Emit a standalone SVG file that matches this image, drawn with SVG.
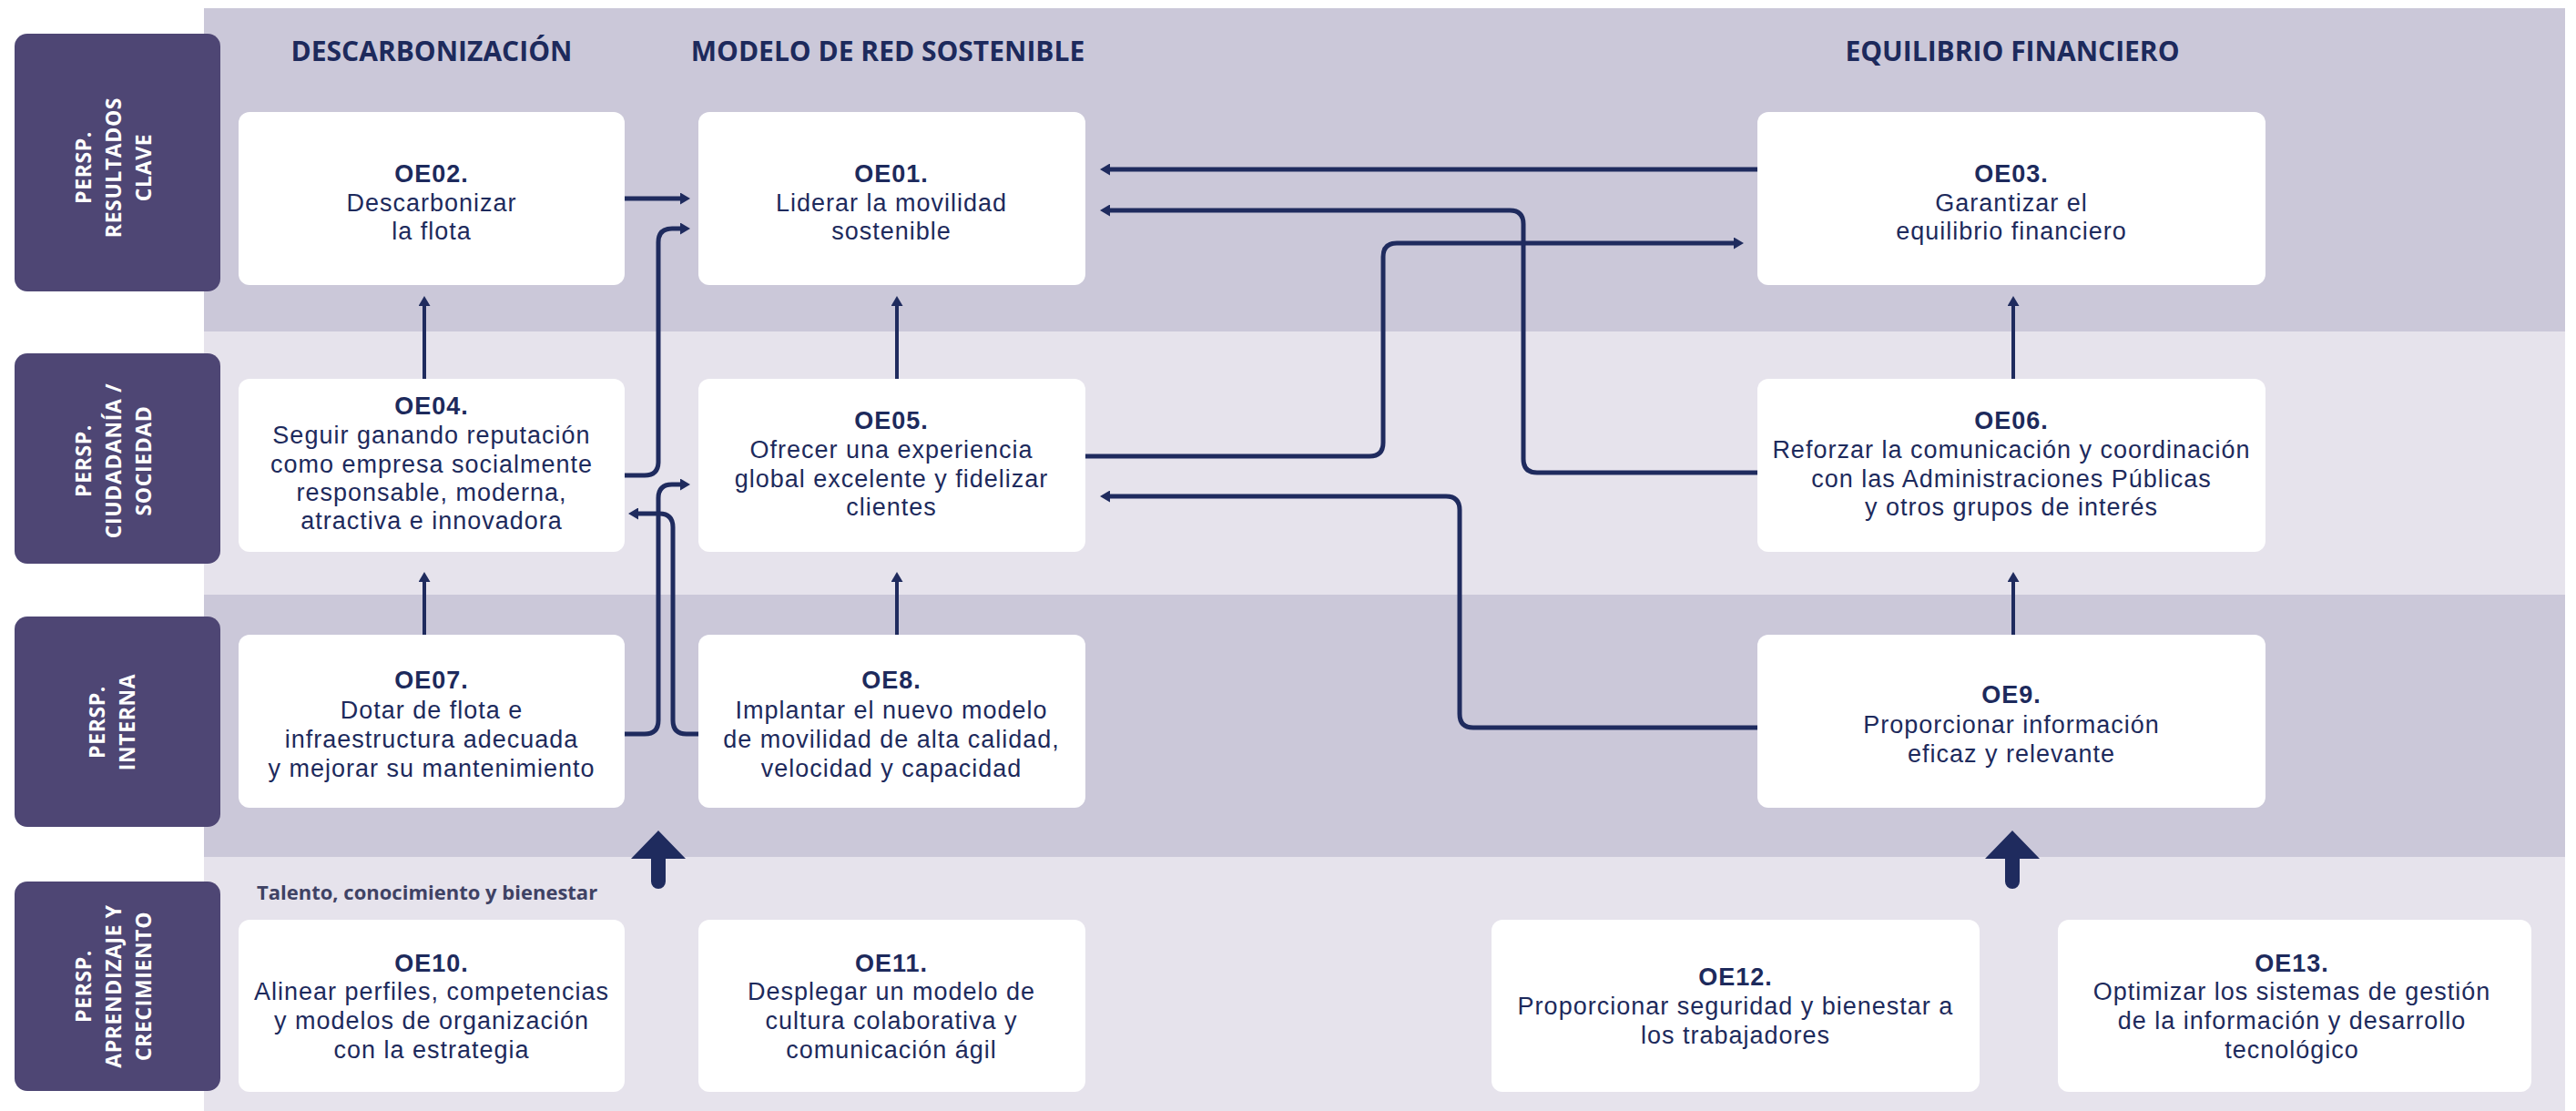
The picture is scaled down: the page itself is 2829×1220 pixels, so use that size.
<svg xmlns="http://www.w3.org/2000/svg" width="2829" height="1220" viewBox="0 0 2829 1220">
  <defs>
    <style>
      .bgA{fill:#cbc8d9}
      .bgB{fill:#e6e3ec}
      .lab{fill:#4e4674}
      .labt{font-family:"Open Sans","Liberation Sans",sans-serif;font-weight:700;font-size:23px;letter-spacing:0.6px;fill:#ffffff;text-anchor:middle}
      .box{fill:#ffffff}
      .t{font-family:"Liberation Sans",Arial,sans-serif;font-size:27px;letter-spacing:1px;fill:#1d2a5c;text-anchor:middle}
      .b{font-weight:700}
      .hd{font-family:"Open Sans","Liberation Sans",sans-serif;font-weight:700;font-size:30px;fill:#1d2a5c;text-anchor:middle}
      .note{font-family:"Open Sans","Liberation Sans",sans-serif;font-weight:700;font-size:22px;fill:#3f4264}
      .c{fill:none;stroke:#1f2b5e;stroke-width:5;marker-end:url(#ah)}
      .v{fill:none;stroke:#1f2b5e;stroke-width:4;marker-end:url(#ah)}
      .big{fill:#1f2b5e}
    </style>
    <marker id="ah" markerUnits="userSpaceOnUse" viewBox="0 0 11 13" refX="4" refY="6.5" markerWidth="11" markerHeight="13" orient="auto">
      <path d="M0,0 L11,6.5 L0,13 Z" fill="#1f2b5e"/>
    </marker>
  </defs>

  <!-- perspective bands -->
  <g id="bands">
    <rect class="bgA" x="224" y="9" width="2593" height="355"/>
    <rect class="bgB" x="224" y="364" width="2593" height="289"/>
    <rect class="bgA" x="224" y="653" width="2593" height="288"/>
    <rect class="bgB" x="224" y="941" width="2593" height="279"/>
  </g>

  <!-- perspective labels -->
  <g id="persp-resultados">
    <rect class="lab" x="16" y="37" width="226" height="283" rx="14"/>
    <text class="labt" transform="translate(125,184) rotate(-90)"><tspan x="0" y="-25">PERSP.</tspan><tspan x="0" y="8">RESULTADOS</tspan><tspan x="0" y="41">CLAVE</tspan></text>
  </g>
  <g id="persp-ciudadania">
    <rect class="lab" x="16" y="388" width="226" height="231" rx="14"/>
    <text class="labt" transform="translate(125,506) rotate(-90)"><tspan x="0" y="-25">PERSP.</tspan><tspan x="0" y="8">CIUDADANÍA /</tspan><tspan x="0" y="41">SOCIEDAD</tspan></text>
  </g>
  <g id="persp-interna">
    <rect class="lab" x="16" y="677" width="226" height="231" rx="14"/>
    <text class="labt" transform="translate(123,793) rotate(-90)"><tspan x="0" y="-8">PERSP.</tspan><tspan x="0" y="25">INTERNA</tspan></text>
  </g>
  <g id="persp-aprendizaje">
    <rect class="lab" x="16" y="968" width="226" height="230" rx="14"/>
    <text class="labt" transform="translate(125,1083) rotate(-90)"><tspan x="0" y="-25">PERSP.</tspan><tspan x="0" y="8">APRENDIZAJE Y</tspan><tspan x="0" y="41">CRECIMIENTO</tspan></text>
  </g>

  <!-- column headings -->
  <g id="headings">
    <text class="hd" x="474" y="67">DESCARBONIZACIÓN</text>
    <text class="hd" x="975" y="67">MODELO DE RED SOSTENIBLE</text>
    <text class="hd" x="2210" y="67">EQUILIBRIO FINANCIERO</text>
  </g>

  <!-- connectors -->
  <g id="connectors">
    <path class="c" d="M686,218 H751"/>
    <path class="c" d="M686,522 H708 Q723,522 723,507 V266 Q723,251 738,251 H751"/>
    <path class="c" d="M686,806 H708 Q723,806 723,791 V547 Q723,532 738,532 H751"/>
    <path class="c" d="M767,806 H754 Q739,806 739,791 V579 Q739,564 724,564 H697"/>
    <path class="c" d="M1930,186 H1215"/>
    <path class="c" d="M1930,519 H1688 Q1673,519 1673,504 V246 Q1673,231 1658,231 H1215"/>
    <path class="c" d="M1192,501 H1504 Q1519,501 1519,486 V282 Q1519,267 1534,267 H1908"/>
    <path class="c" d="M1930,799 H1618 Q1603,799 1603,784 V560 Q1603,545 1588,545 H1215"/>
    <path class="v" d="M466,416 V332"/>
    <path class="v" d="M985,416 V332"/>
    <path class="v" d="M2211,416 V332"/>
    <path class="v" d="M466,697 V635"/>
    <path class="v" d="M985,697 V635"/>
    <path class="v" d="M2211,697 V635"/>
    <path class="big" d="M723,912 L753,943 L731,943 V968 A8,8 0 0 1 715,968 V943 L693,943 Z"/>
    <path class="big" d="M2210,912 L2240,943 L2218,943 V968 A8,8 0 0 1 2202,968 V943 L2180,943 Z"/>
  </g>

  <text class="note" x="282" y="988">Talento, conocimiento y bienestar</text>

  <!-- objectives -->
  <g id="OE02">
    <rect class="box" x="262" y="123" width="424" height="190" rx="12"/>
    <text class="t"><tspan class="b" x="474" y="200">OE02.</tspan><tspan x="474" y="232">Descarbonizar</tspan><tspan x="474" y="263">la flota</tspan></text>
  </g>
  <g id="OE01">
    <rect class="box" x="767" y="123" width="425" height="190" rx="12"/>
    <text class="t"><tspan class="b" x="979" y="200">OE01.</tspan><tspan x="979" y="232">Liderar la movilidad</tspan><tspan x="979" y="263">sostenible</tspan></text>
  </g>
  <g id="OE03">
    <rect class="box" x="1930" y="123" width="558" height="190" rx="12"/>
    <text class="t"><tspan class="b" x="2209" y="200">OE03.</tspan><tspan x="2209" y="232">Garantizar el</tspan><tspan x="2209" y="263">equilibrio financiero</tspan></text>
  </g>
  <g id="OE04">
    <rect class="box" x="262" y="416" width="424" height="190" rx="12"/>
    <text class="t"><tspan class="b" x="474" y="455">OE04.</tspan><tspan x="474" y="487">Seguir ganando reputación</tspan><tspan x="474" y="519">como empresa socialmente</tspan><tspan x="474" y="550">responsable, moderna,</tspan><tspan x="474" y="581">atractiva e innovadora</tspan></text>
  </g>
  <g id="OE05">
    <rect class="box" x="767" y="416" width="425" height="190" rx="12"/>
    <text class="t"><tspan class="b" x="979" y="471">OE05.</tspan><tspan x="979" y="503">Ofrecer una experiencia</tspan><tspan x="979" y="535">global excelente y fidelizar</tspan><tspan x="979" y="566">clientes</tspan></text>
  </g>
  <g id="OE06">
    <rect class="box" x="1930" y="416" width="558" height="190" rx="12"/>
    <text class="t"><tspan class="b" x="2209" y="471">OE06.</tspan><tspan x="2209" y="503">Reforzar la comunicación y coordinación</tspan><tspan x="2209" y="535">con las Administraciones Públicas</tspan><tspan x="2209" y="566">y otros grupos de interés</tspan></text>
  </g>
  <g id="OE07">
    <rect class="box" x="262" y="697" width="424" height="190" rx="12"/>
    <text class="t"><tspan class="b" x="474" y="756">OE07.</tspan><tspan x="474" y="789">Dotar de flota e</tspan><tspan x="474" y="821">infraestructura adecuada</tspan><tspan x="474" y="853">y mejorar su mantenimiento</tspan></text>
  </g>
  <g id="OE8">
    <rect class="box" x="767" y="697" width="425" height="190" rx="12"/>
    <text class="t"><tspan class="b" x="979" y="756">OE8.</tspan><tspan x="979" y="789">Implantar el nuevo modelo</tspan><tspan x="979" y="821">de movilidad de alta calidad,</tspan><tspan x="979" y="853">velocidad y capacidad</tspan></text>
  </g>
  <g id="OE9">
    <rect class="box" x="1930" y="697" width="558" height="190" rx="12"/>
    <text class="t"><tspan class="b" x="2209" y="772">OE9.</tspan><tspan x="2209" y="805">Proporcionar información</tspan><tspan x="2209" y="837">eficaz y relevante</tspan></text>
  </g>
  <g id="OE10">
    <rect class="box" x="262" y="1010" width="424" height="189" rx="12"/>
    <text class="t"><tspan class="b" x="474" y="1067">OE10.</tspan><tspan x="474" y="1098">Alinear perfiles, competencias</tspan><tspan x="474" y="1130">y modelos de organización</tspan><tspan x="474" y="1162">con la estrategia</tspan></text>
  </g>
  <g id="OE11">
    <rect class="box" x="767" y="1010" width="425" height="189" rx="12"/>
    <text class="t"><tspan class="b" x="979" y="1067">OE11.</tspan><tspan x="979" y="1098">Desplegar un modelo de</tspan><tspan x="979" y="1130">cultura colaborativa y</tspan><tspan x="979" y="1162">comunicación ágil</tspan></text>
  </g>
  <g id="OE12">
    <rect class="box" x="1638" y="1010" width="536" height="189" rx="12"/>
    <text class="t"><tspan class="b" x="1906" y="1082">OE12.</tspan><tspan x="1906" y="1114">Proporcionar seguridad y bienestar a</tspan><tspan x="1906" y="1146">los trabajadores</tspan></text>
  </g>
  <g id="OE13">
    <rect class="box" x="2260" y="1010" width="520" height="189" rx="12"/>
    <text class="t"><tspan class="b" x="2517" y="1067">OE13.</tspan><tspan x="2517" y="1098">Optimizar los sistemas de gestión</tspan><tspan x="2517" y="1130">de la información y desarrollo</tspan><tspan x="2517" y="1162">tecnológico</tspan></text>
  </g>
</svg>
